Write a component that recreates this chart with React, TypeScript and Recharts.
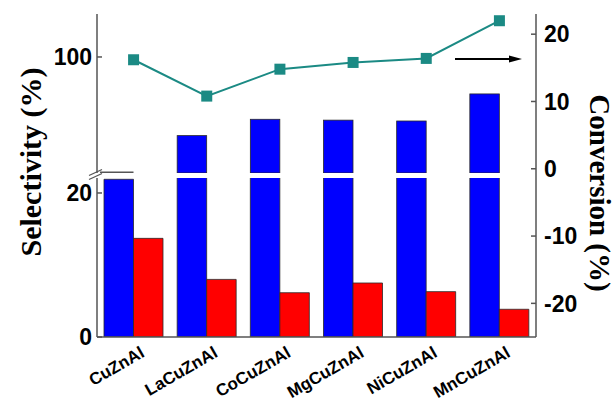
import React from 'react';
import { BarChart, Bar, XAxis, YAxis, ComposedChart, Line, Customized } from 'recharts';

// Catalysts along the x axis
const categories = ['CuZnAl', 'LaCuZnAl', 'CoCuZnAl', 'MgCuZnAl', 'NiCuZnAl', 'MnCuZnAl'];
// Selectivity (%) — tall blue series and short red series
const selectivityMain = [21.9, 81.7, 85.5, 85.3, 85.1, 91.4];
const selectivityMinor = [13.7, 8.0, 6.15, 7.5, 6.3, 3.85];
// Conversion (%) on the right axis
const conversion = [16.2, 10.8, 14.8, 15.8, 16.4, 22.0];

// Tick values
const lowerTicks = [0, 20];
const upperTicks = [100];
const rightTicks = [-20, -10, 0, 10, 20];

const rows = categories.map((name, i) => ({
  name,
  main: selectivityMain[i],
  minor: selectivityMinor[i],
  conv: conversion[i],
}));

// Layout
const W = 616;
const H = 403;
const LEFT = 97;
const RIGHT = 536;
const TOP = 14;
const BOTTOM = 337;
const UPPER_BOTTOM = 173;
const LOWER_TOP = 178;

// Broken left axis: lower and upper segments
const LOWER_DOMAIN: [number, number] = [0, 22.08];
const UPPER_DOMAIN: [number, number] = [73, 110];
const RIGHT_DOMAIN: [number, number] = [-25, 23];

const AXIS_GRAY = '#555';
const BLUE = '#0000ff';
const RED = '#ff0000';
const TEAL = '#1b8a84';
const BAR_EDGE = '#2a2a2a';
const SANS = '"Liberation Sans", Arial, sans-serif';
const SERIF = '"Liberation Serif", "Times New Roman", serif';

const LeftTick = (props: any) => {
  const { x, y, payload } = props;
  return (
    <g>
      <line x1={x + 5} x2={x + 10} y1={y} y2={y} stroke={AXIS_GRAY} strokeWidth={1.5} />
      <text x={x} y={y} dy="0.36em" textAnchor="end" fontFamily={SANS} fontWeight="bold" fontSize={23} fill="#000">
        {payload.value}
      </text>
    </g>
  );
};

const RightTick = (props: any) => {
  const { x, y, payload } = props;
  return (
    <g>
      <line x1={x - 8} x2={x - 13} y1={y} y2={y} stroke={AXIS_GRAY} strokeWidth={1.5} />
      <text x={x} y={y} dy="0.36em" textAnchor="start" fontFamily={SANS} fontWeight="bold" fontSize={23} fill="#000">
        {payload.value}
      </text>
    </g>
  );
};

// Category label, slanted upwards and ending just right of the band centre
const BottomTick = (props: any) => {
  const { x, y, payload } = props;
  return (
    <g transform={`translate(${x + 12},${y + 19}) rotate(-30)`}>
      <text x={0} y={0} textAnchor="end" fontFamily={SANS} fontWeight="bold" fontSize={17} fill="#000">
        {payload.value}
      </text>
    </g>
  );
};

// Upper segment bar: a value that falls inside the axis break only leaves its cap line
const UpperBarShape = (props: any) => {
  const { x, y, width, height, fill } = props;
  const top = Math.min(y, y + height);
  const bottom = Math.max(y, y + height);
  if (top >= UPPER_BOTTOM - 0.5) {
    return <line x1={x - 4} x2={x + width} y1={UPPER_BOTTOM - 0.75} y2={UPPER_BOTTOM - 0.75} stroke={AXIS_GRAY} strokeWidth={1.5} />;
  }
  return <rect x={x} y={top} width={width} height={bottom - top} fill={fill} stroke={BAR_EDGE} strokeWidth={0.8} />;
};

const SquareDot = (props: any) => {
  const { cx, cy, index } = props;
  return <rect key={`dot-${index}`} x={cx - 5.5} y={cy - 5.5} width={11} height={11} fill={TEAL} />;
};

const Annotations = () => (
  <g>
    {/* axis break marks */}
    <line x1={89} y1={175.5} x2={102} y2={169.5} stroke={AXIS_GRAY} strokeWidth={1.3} />
    <line x1={89} y1={179.5} x2={102} y2={173.5} stroke={AXIS_GRAY} strokeWidth={1.3} />
    {/* arrow pointing to the conversion axis */}
    <line x1={455} y1={59} x2={512} y2={59} stroke="#000" strokeWidth={2} />
    <polygon points="509,55.5 522,59 509,62.5" fill="#000" />
    {/* axis titles */}
    <text
      transform="translate(30,162) rotate(-90)"
      textAnchor="middle"
      dominantBaseline="central"
      fontFamily={SERIF}
      fontWeight="bold"
      fontSize={30}
      fill="#000"
    >
      Selectivity (%)
    </text>
    <text
      transform="translate(600,193) rotate(90)"
      textAnchor="middle"
      dominantBaseline="central"
      fontFamily={SERIF}
      fontWeight="bold"
      fontSize={29}
      fill="#000"
    >
      Conversion (%)
    </text>
  </g>
);

const layer: React.CSSProperties = { position: 'absolute', left: 0, top: 0 };

export default function App() {
  return (
    <div style={{ position: 'absolute', left: 0, top: 0, width: W, height: H, background: '#fff', overflow: 'hidden' }}>
      {/* lower segment of selectivity axis */}
      <div style={layer}>
        <BarChart
          width={W}
          height={H}
          data={rows}
          margin={{ top: LOWER_TOP, right: W - RIGHT, bottom: H - BOTTOM, left: 0 }}
          barSize={29.5}
          barGap={0}
        >
          <XAxis dataKey="name" hide />
          <YAxis
            width={LEFT}
            domain={LOWER_DOMAIN}
            ticks={lowerTicks}
            interval={0}
            allowDataOverflow
            tick={LeftTick}
            tickSize={0}
            tickMargin={5}
            tickLine={false}
            axisLine={{ stroke: AXIS_GRAY, strokeWidth: 1.5 }}
          />
          <Bar dataKey="main" fill={BLUE} stroke={BAR_EDGE} strokeWidth={0.8} isAnimationActive={false} />
          <Bar dataKey="minor" fill={RED} stroke={BAR_EDGE} strokeWidth={0.8} isAnimationActive={false} />
        </BarChart>
      </div>

      {/* upper segment of selectivity axis */}
      <div style={layer}>
        <BarChart
          width={W}
          height={H}
          data={rows}
          margin={{ top: TOP, right: W - RIGHT, bottom: H - UPPER_BOTTOM, left: 0 }}
          barSize={29.5}
          barGap={0}
        >
          <XAxis dataKey="name" hide />
          <YAxis
            width={LEFT}
            domain={UPPER_DOMAIN}
            ticks={upperTicks}
            interval={0}
            allowDataOverflow
            tick={LeftTick}
            tickSize={0}
            tickMargin={5}
            tickLine={false}
            axisLine={{ stroke: AXIS_GRAY, strokeWidth: 1.5 }}
          />
          <Bar dataKey="main" fill={BLUE} shape={UpperBarShape} isAnimationActive={false} />
          <Bar dataKey="minor" fill="transparent" stroke="none" isAnimationActive={false} />
        </BarChart>
      </div>

      {/* frame, categories and conversion line */}
      <div style={layer}>
        <ComposedChart width={W} height={H} data={rows} margin={{ top: TOP, right: 0, bottom: 0, left: LEFT }}>
          <XAxis
            dataKey="name"
            scale="band"
            height={H - BOTTOM}
            interval={0}
            tick={BottomTick}
            tickSize={0}
            tickMargin={0}
            tickLine={false}
            axisLine={{ stroke: AXIS_GRAY, strokeWidth: 1.5 }}
          />
          <XAxis
            xAxisId="top"
            dataKey="name"
            orientation="top"
            height={0}
            tick={false}
            tickLine={false}
            axisLine={{ stroke: AXIS_GRAY, strokeWidth: 1.5 }}
          />
          <YAxis
            yAxisId="right"
            orientation="right"
            width={W - RIGHT}
            domain={RIGHT_DOMAIN}
            ticks={rightTicks}
            interval={0}
            tick={RightTick}
            tickSize={0}
            tickMargin={8}
            tickLine={false}
            axisLine={{ stroke: AXIS_GRAY, strokeWidth: 1.5 }}
          />
          <Line
            yAxisId="right"
            dataKey="conv"
            stroke={TEAL}
            strokeWidth={2}
            dot={SquareDot}
            activeDot={false}
            isAnimationActive={false}
          />
          <Customized component={Annotations} />
        </ComposedChart>
      </div>
    </div>
  );
}
